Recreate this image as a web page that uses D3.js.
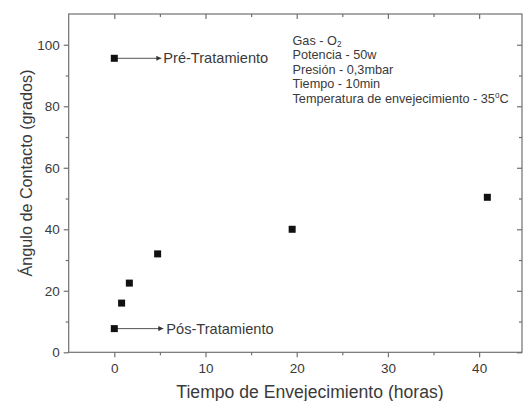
<!DOCTYPE html>
<html>
<head>
<meta charset="utf-8">
<script src="https://cdn.jsdelivr.net/npm/d3@7/dist/d3.min.js"></script>
<style>
  html, body { margin: 0; padding: 0; background: #fff; }
  svg { display: block; font-family: "Liberation Sans", Arial, sans-serif; }
</style>
</head>
<body>
<svg id="chart" width="523" height="401"></svg>
<script>
// Contact angle vs. ageing time after O2 plasma treatment
const hours  = [0, 0, 0.8, 1.65, 4.75, 19.5, 40.9];
const angles = [95.6, 7.7, 16.0, 22.5, 32.0, 40.0, 50.4];

const xMajorTicks = [0, 10, 20, 30, 40];
const xMinorTicks = [5, 15, 25, 35];
const yMajorTicks = [0, 20, 40, 60, 80, 100];
const yMinorTicks = [10, 30, 50, 70, 90];

const conditions = [
  ["Gas - O", "2", ""],
  ["Potencia - 50w"],
  ["Presión - 0,3mbar"],
  ["Tiempo - 10min"],
  ["Temperatura de envejecimiento - 35", "o", "C"]
];

const xTitle = "Tiempo de Envejecimiento (horas)";
const yTitle = "Ángulo de Contacto (grados)";
const preLabel = "Pré-Tratamiento";
const posLabel = "Pós-Tratamiento";

const svg = d3.select("#chart");
const plotLeft = 68.7, plotRight = 522, plotTop = 14, plotBottom = 352.3;

const x = d3.scaleLinear().domain([-5, 44.7]).range([plotLeft, plotRight]);
const y = d3.scaleLinear().domain([0, 110]).range([plotBottom, plotTop]);

const axisColor = "#707070";
const textColor = "#3a3a3a";

// frame
svg.append("rect")
  .attr("x", plotLeft).attr("y", plotTop)
  .attr("width", plotRight - plotLeft).attr("height", plotBottom - plotTop)
  .attr("fill", "none").attr("stroke", axisColor).attr("stroke-width", 1.2);

function styleAxis(g) {
  g.select(".domain").remove();
  g.selectAll("line").attr("stroke", axisColor).attr("stroke-width", 1.2);
  g.selectAll("text").attr("fill", textColor)
    .attr("font-size", 13.5)
    .attr("font-family", "'Liberation Sans', Arial, sans-serif");
}

// bottom axis (outward ticks)
svg.append("g").attr("transform", `translate(0,${plotBottom})`)
  .call(d3.axisBottom(x).tickValues(xMajorTicks).tickSize(5).tickPadding(6).tickFormat(d3.format("d")))
  .call(styleAxis);
svg.append("g").attr("transform", `translate(0,${plotBottom})`)
  .call(d3.axisBottom(x).tickValues(xMinorTicks).tickSize(3).tickFormat(""))
  .call(styleAxis);

// left axis (outward ticks)
svg.append("g").attr("transform", `translate(${plotLeft},0)`)
  .call(d3.axisLeft(y).tickValues(yMajorTicks).tickSize(5).tickPadding(4).tickFormat(d3.format("d")))
  .call(styleAxis);
svg.append("g").attr("transform", `translate(${plotLeft},0)`)
  .call(d3.axisLeft(y).tickValues(yMinorTicks).tickSize(3).tickFormat(""))
  .call(styleAxis);

// top axis (inward ticks, no labels)
svg.append("g").attr("transform", `translate(0,${plotTop})`)
  .call(d3.axisTop(x).tickValues(xMajorTicks).tickSize(-5).tickFormat(""))
  .call(styleAxis);
svg.append("g").attr("transform", `translate(0,${plotTop})`)
  .call(d3.axisTop(x).tickValues(xMinorTicks).tickSize(-3).tickFormat(""))
  .call(styleAxis);

// right axis (inward ticks, no labels)
svg.append("g").attr("transform", `translate(${plotRight},0)`)
  .call(d3.axisRight(y).tickValues(yMajorTicks).tickSize(-5).tickFormat(""))
  .call(styleAxis);
svg.append("g").attr("transform", `translate(${plotRight},0)`)
  .call(d3.axisRight(y).tickValues(yMinorTicks).tickSize(-3).tickFormat(""))
  .call(styleAxis);

// axis titles
svg.append("text")
  .attr("x", 310).attr("y", 398)
  .attr("text-anchor", "middle")
  .attr("font-size", 17.6).attr("fill", textColor)
  .text(xTitle);

svg.append("text")
  .attr("transform", "translate(32,173) rotate(-90)")
  .attr("text-anchor", "middle")
  .attr("font-size", 16.2).attr("fill", textColor)
  .text(yTitle);

// arrow marker
svg.append("defs").append("marker")
  .attr("id", "arrow")
  .attr("viewBox", "0 0 10 10")
  .attr("refX", 10).attr("refY", 5)
  .attr("markerWidth", 6).attr("markerHeight", 5)
  .attr("markerUnits", "userSpaceOnUse")
  .attr("orient", "auto")
  .append("path").attr("d", "M0,0 L10,5 L0,10 Z").attr("fill", "#333");

// arrows from the first two points to their labels
const labelled = [
  { i: 0, text: preLabel, tipDx: 47, textDx: 49 },
  { i: 1, text: posLabel, tipDx: 49, textDx: 52 }
];
labelled.forEach(d => {
  const px = x(hours[d.i]), py = y(angles[d.i]);
  svg.append("line")
    .attr("x1", px).attr("y1", py)
    .attr("x2", px + d.tipDx).attr("y2", py)
    .attr("stroke", "#555").attr("stroke-width", 1)
    .attr("marker-end", "url(#arrow)");
  svg.append("text")
    .attr("x", px + d.textDx).attr("y", py + 5)
    .attr("font-size", 14.6).attr("fill", textColor)
    .text(d.text);
});

// data markers
const size = 7;
svg.append("g").selectAll("rect")
  .data(hours.map((h, i) => [h, angles[i]]))
  .join("rect")
  .attr("x", d => x(d[0]) - size / 2)
  .attr("y", d => y(d[1]) - size / 2)
  .attr("width", size).attr("height", size)
  .attr("fill", "#111");

// process conditions block, one text element per line
const info = svg.append("g").attr("fill", textColor).attr("font-size", 12.7);
conditions.forEach((parts, k) => {
  const line = info.append("text")
    .attr("x", 292.5).attr("y", 44.5 + k * 14.6);
  line.append("tspan").text(parts[0]);
  if (parts.length > 1) {
    const isSub = k === 0;
    line.append("tspan")
      .attr("font-size", 8.2)
      .attr("dy", isSub ? 2 : -5)
      .text(parts[1]);
    if (parts[2]) {
      line.append("tspan")
        .attr("dy", isSub ? -2 : 5)
        .text(parts[2]);
    }
  }
});
</script>
</body>
</html>
